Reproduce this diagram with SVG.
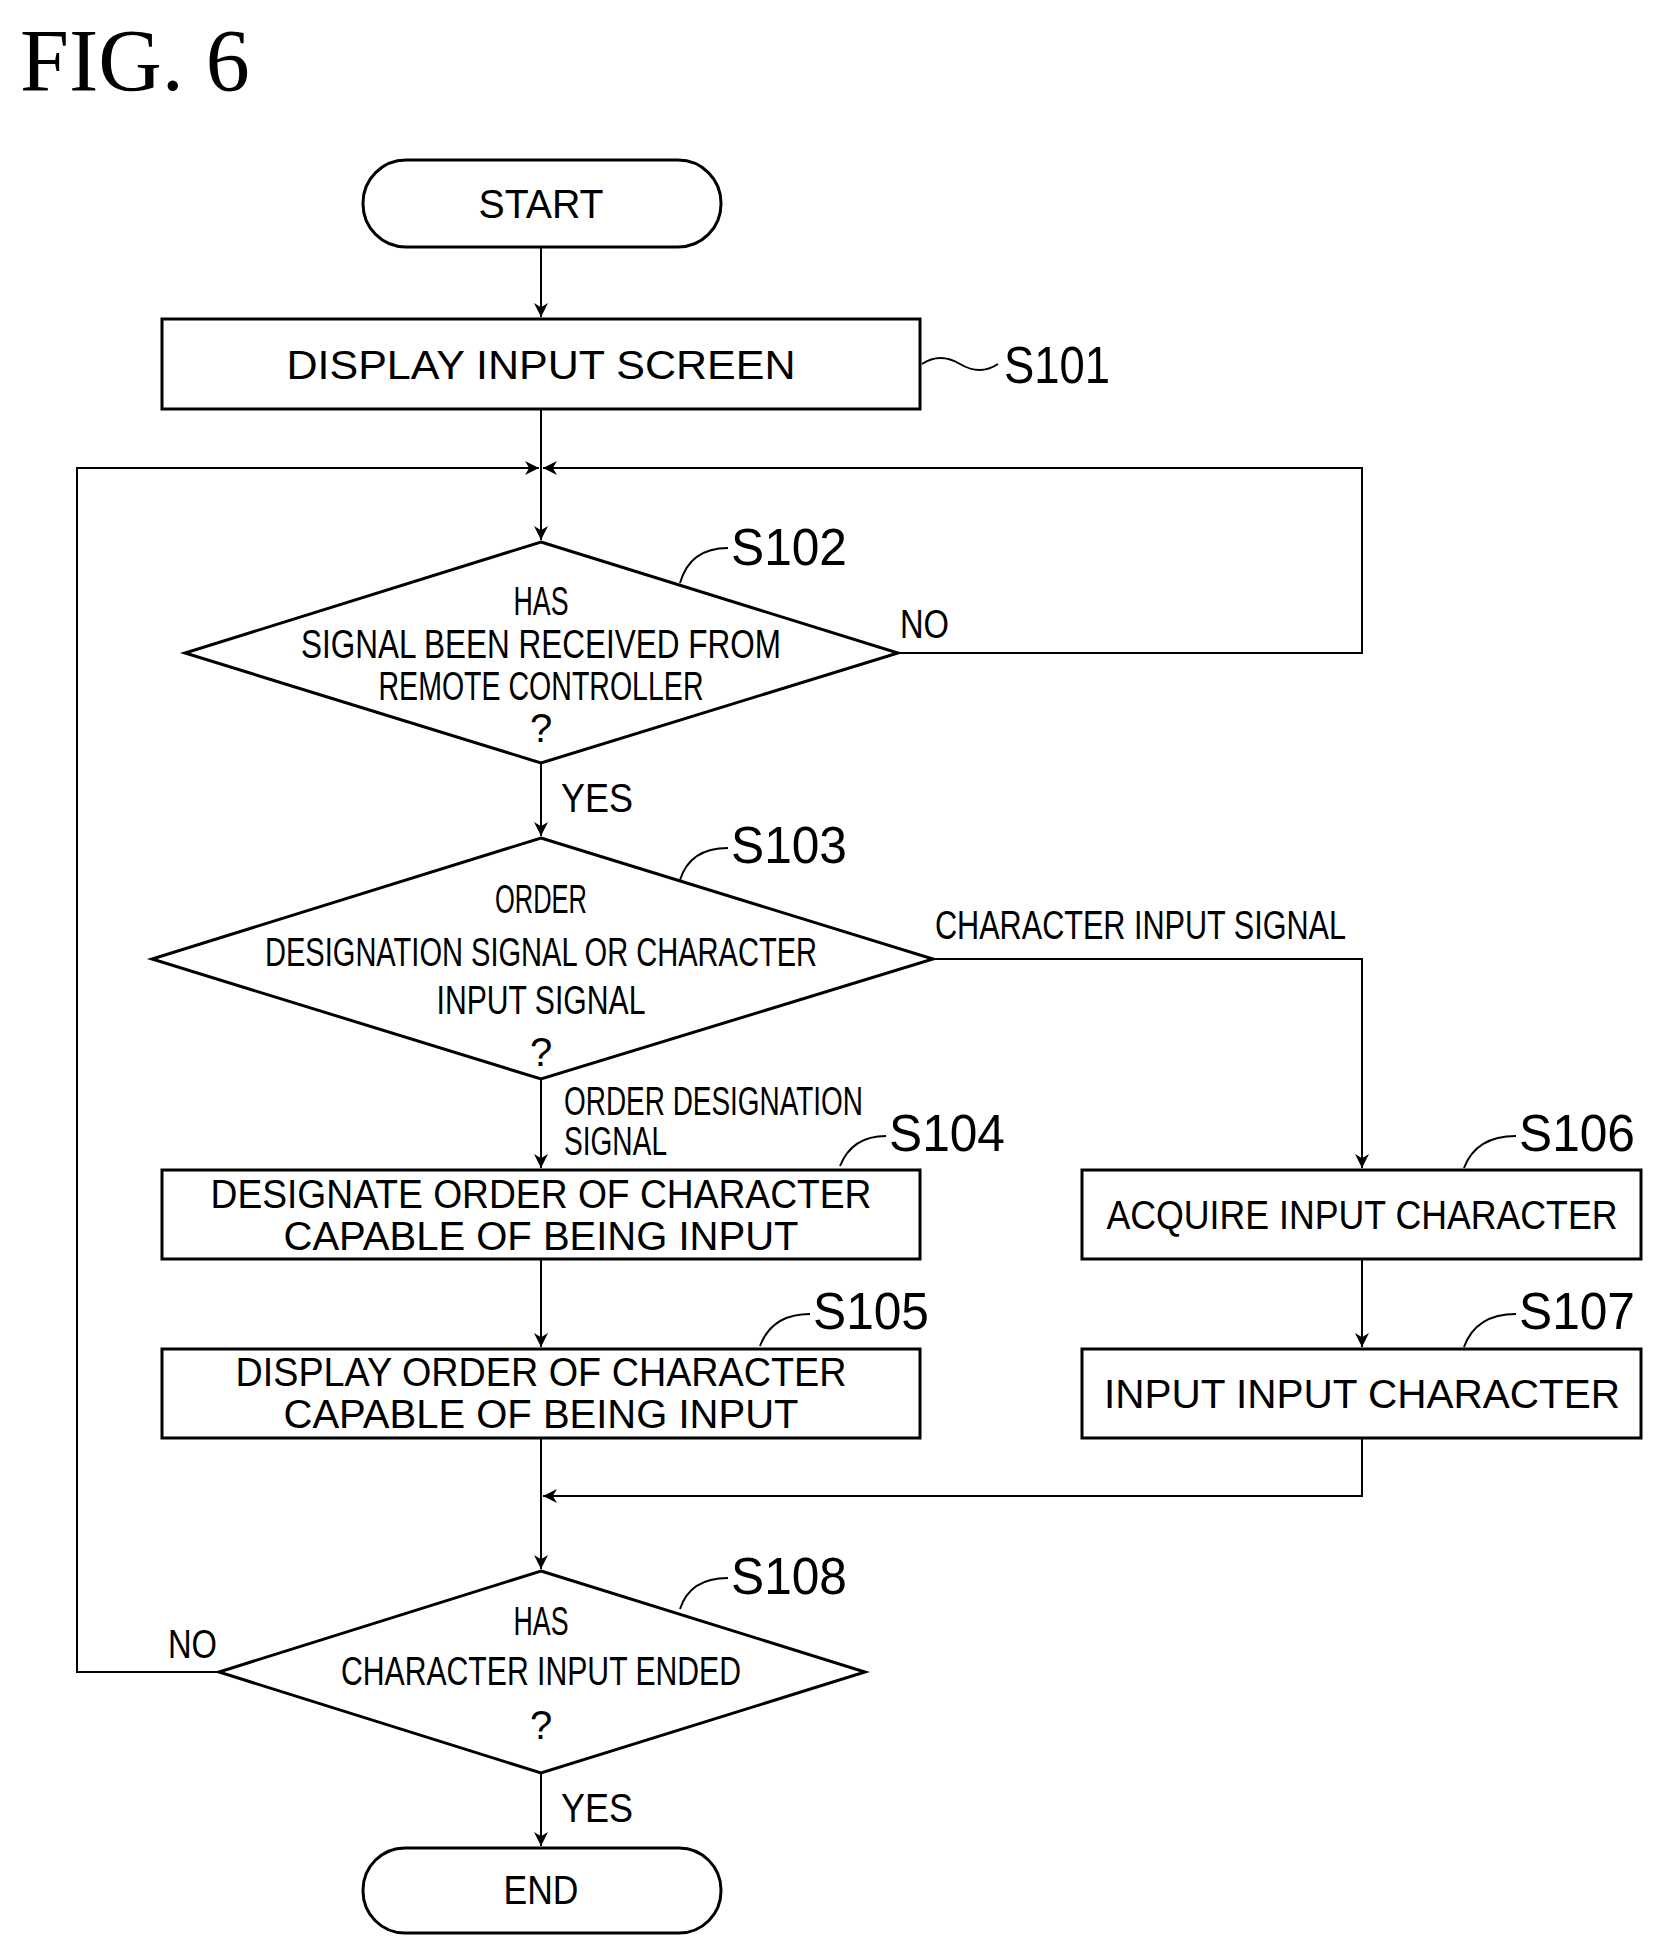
<svg xmlns="http://www.w3.org/2000/svg" width="1657" height="1948" viewBox="0 0 1657 1948">
<style>
.s{fill:#fff;stroke:#000;stroke-width:3}
.t{font-family:"Liberation Sans",Arial,sans-serif;font-size:40px;fill:#000;text-anchor:middle}
.tl{font-family:"Liberation Sans",Arial,sans-serif;font-size:40px;fill:#000}
.lb{font-family:"Liberation Sans",Arial,sans-serif;font-size:52px;fill:#000}
.c{fill:none;stroke:#000;stroke-width:2}
</style>
<defs>
<marker id="a" viewBox="0 0 10 10" refX="10" refY="5" markerWidth="22" markerHeight="14" markerUnits="userSpaceOnUse" orient="auto"><path d="M0,0 L10,5 L0,10 L3,5 z" fill="#000"/></marker>
</defs>
<rect width="1657" height="1948" fill="#fff"/>
<text x="20" y="90" style="font-family:'Liberation Serif',serif;font-size:88px">FIG. 6</text>
<g id="connectors" class="c">
<path d="M541,247 V317" marker-end="url(#a)"/>
<path d="M541,409 V540" marker-end="url(#a)"/>
<path d="M541,763 V836" marker-end="url(#a)"/>
<path d="M541,1079 V1168" marker-end="url(#a)"/>
<path d="M541,1259 V1347" marker-end="url(#a)"/>
<path d="M541,1438 V1569" marker-end="url(#a)"/>
<path d="M541,1773 V1846" marker-end="url(#a)"/>
<path d="M898,653 H1362 V468 H543" marker-end="url(#a)"/>
<path d="M219,1672 H77 V468 H539" marker-end="url(#a)"/>
<path d="M933,959 H1362 V1168" marker-end="url(#a)"/>
<path d="M1362,1259 V1347" marker-end="url(#a)"/>
<path d="M1362,1438 V1496 H543" marker-end="url(#a)"/>
<path d="M922,364 Q940,352 960,364 T998,364"/>
<path d="M680,583 Q690,548 728,548"/>
<path d="M680,880 Q690,848 728,848"/>
<path d="M840,1166 Q852,1136 886,1136"/>
<path d="M760,1346 Q772,1314 810,1314"/>
<path d="M1464,1168 Q1476,1136 1516,1136"/>
<path d="M1464,1347 Q1476,1314 1516,1314"/>
<path d="M680,1609 Q690,1578 728,1578"/>
</g>
<g id="start"><rect class="s" x="363" y="160" width="358" height="87" rx="43"/><text class="t" x="541" y="218" textLength="125" lengthAdjust="spacingAndGlyphs">START</text></g>
<g id="s101"><rect class="s" x="162" y="319" width="758" height="90"/><text class="t" x="541" y="379" textLength="509" lengthAdjust="spacingAndGlyphs">DISPLAY INPUT SCREEN</text><text class="lb" x="1004" y="383" textLength="106" lengthAdjust="spacingAndGlyphs">S101</text></g>
<g id="s102"><polygon class="s" points="541,542 898,653 541,763 185,653"/>
<text class="t" x="541" y="615" textLength="55" lengthAdjust="spacingAndGlyphs">HAS</text>
<text class="t" x="541" y="658" textLength="480" lengthAdjust="spacingAndGlyphs">SIGNAL BEEN RECEIVED FROM</text>
<text class="t" x="541" y="700" textLength="325" lengthAdjust="spacingAndGlyphs">REMOTE CONTROLLER</text>
<text class="t" x="541" y="742">?</text>
<text class="lb" x="731" y="565" textLength="116" lengthAdjust="spacingAndGlyphs">S102</text>
<text class="tl" x="900" y="638" textLength="49" lengthAdjust="spacingAndGlyphs">NO</text>
<text class="tl" x="561" y="812" textLength="72" lengthAdjust="spacingAndGlyphs">YES</text></g>
<g id="s103"><polygon class="s" points="541,838 933,959 541,1079 152,959"/>
<text class="t" x="541" y="913" textLength="92" lengthAdjust="spacingAndGlyphs">ORDER</text>
<text class="t" x="541" y="966" textLength="552" lengthAdjust="spacingAndGlyphs">DESIGNATION SIGNAL OR CHARACTER</text>
<text class="t" x="541" y="1014" textLength="209" lengthAdjust="spacingAndGlyphs">INPUT SIGNAL</text>
<text class="t" x="541" y="1066">?</text>
<text class="lb" x="731" y="863" textLength="116" lengthAdjust="spacingAndGlyphs">S103</text>
<text class="tl" x="935" y="939" textLength="411" lengthAdjust="spacingAndGlyphs">CHARACTER INPUT SIGNAL</text>
<text class="tl" x="564" y="1115" textLength="299" lengthAdjust="spacingAndGlyphs">ORDER DESIGNATION</text>
<text class="tl" x="564" y="1155" textLength="103" lengthAdjust="spacingAndGlyphs">SIGNAL</text></g>
<g id="s104"><rect class="s" x="162" y="1170" width="758" height="89"/>
<text class="t" x="541" y="1208" textLength="661" lengthAdjust="spacingAndGlyphs">DESIGNATE ORDER OF CHARACTER</text>
<text class="t" x="541" y="1250" textLength="515" lengthAdjust="spacingAndGlyphs">CAPABLE OF BEING INPUT</text>
<text class="lb" x="889" y="1151" textLength="116" lengthAdjust="spacingAndGlyphs">S104</text></g>
<g id="s105"><rect class="s" x="162" y="1349" width="758" height="89"/>
<text class="t" x="541" y="1386" textLength="611" lengthAdjust="spacingAndGlyphs">DISPLAY ORDER OF CHARACTER</text>
<text class="t" x="541" y="1428" textLength="515" lengthAdjust="spacingAndGlyphs">CAPABLE OF BEING INPUT</text>
<text class="lb" x="813" y="1329" textLength="116" lengthAdjust="spacingAndGlyphs">S105</text></g>
<g id="s106"><rect class="s" x="1082" y="1170" width="559" height="89"/>
<text class="t" x="1362" y="1229" textLength="511" lengthAdjust="spacingAndGlyphs">ACQUIRE INPUT CHARACTER</text>
<text class="lb" x="1519" y="1151" textLength="116" lengthAdjust="spacingAndGlyphs">S106</text></g>
<g id="s107"><rect class="s" x="1082" y="1349" width="559" height="89"/>
<text class="t" x="1362" y="1408" textLength="516" lengthAdjust="spacingAndGlyphs">INPUT INPUT CHARACTER</text>
<text class="lb" x="1519" y="1329" textLength="116" lengthAdjust="spacingAndGlyphs">S107</text></g>
<g id="s108"><polygon class="s" points="541,1571 865,1672 541,1773 219,1672"/>
<text class="t" x="541" y="1635" textLength="55" lengthAdjust="spacingAndGlyphs">HAS</text>
<text class="t" x="541" y="1685" textLength="400" lengthAdjust="spacingAndGlyphs">CHARACTER INPUT ENDED</text>
<text class="t" x="541" y="1739">?</text>
<text class="lb" x="731" y="1594" textLength="116" lengthAdjust="spacingAndGlyphs">S108</text>
<text class="tl" x="168" y="1658" textLength="49" lengthAdjust="spacingAndGlyphs">NO</text>
<text class="tl" x="561" y="1822" textLength="72" lengthAdjust="spacingAndGlyphs">YES</text></g>
<g id="end"><rect class="s" x="363" y="1848" width="358" height="85" rx="42"/><text class="t" x="541" y="1904" textLength="75" lengthAdjust="spacingAndGlyphs">END</text></g>
</svg>
